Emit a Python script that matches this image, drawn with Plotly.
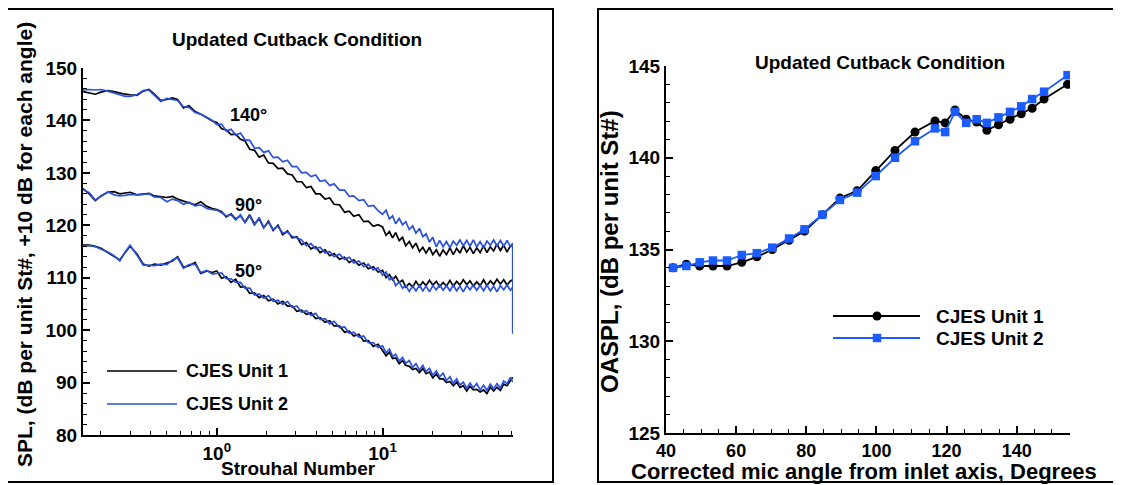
import math
import plotly.graph_objects as go

# ---------------- data: left panel (narrowband spectra) ----------------
ST = [0.156, 0.17, 0.185, 0.2, 0.22, 0.24, 0.26, 0.28, 0.30, 0.33, 0.36, 0.39, 0.42, 0.46,
      0.50, 0.54, 0.58, 0.63, 0.68, 0.74, 0.80, 0.87, 0.94,
      1.0, 1.07, 1.14, 1.22, 1.30, 1.39, 1.48, 1.58, 1.69, 1.80, 1.92, 2.05, 2.19, 2.34, 2.5,
      2.67, 2.85, 3.04, 3.25, 3.47, 3.7, 3.95, 4.2, 4.5, 4.8, 5.1, 5.5, 5.9, 6.3, 6.7, 7.2,
      7.7, 8.2, 8.8, 9.4,
      10.0, 10.5, 11.0, 11.5, 12.0, 12.6, 13.2, 13.8, 14.5, 15.2, 15.9, 16.7, 17.5, 18.3,
      19.2, 20.1, 21.1, 22.1, 23.2, 24.3, 25.5, 26.7, 28.0, 29.3, 30.7, 32.2, 33.7, 35.3,
      37.0, 38.8, 40.7, 42.6, 44.7, 46.8, 49.0, 51.4, 53.8, 56.4, 59.1, 61.0]

U1_140 = [145.5, 145.3, 145.0, 145.4, 145.7, 145.5, 145.2, 145.0, 144.9, 144.8, 145.6, 145.9,
          145.0, 143.8, 144.0, 144.3, 144.0, 142.4, 142.8, 141.7, 141.2, 140.5, 139.9,
          139.6, 138.4, 138.2, 137.3, 137.4, 136.4, 136.1, 134.5, 134.3, 133.0, 133.4, 131.9,
          131.8, 130.8, 130.9, 129.8, 129.6, 128.3, 128.3, 127.2, 127.4, 126.0, 126.0, 125.0,
          125.2, 124.0, 123.9, 122.5, 122.7, 121.7, 122.0, 120.7, 120.8, 119.8, 120.1,
          119.7, 118.1, 118.8, 117.6, 118.6, 117.1, 117.7, 116.1, 116.9, 115.7, 116.6, 115.0,
          115.8, 114.7, 115.8, 114.4, 115.3, 114.1, 115.3, 114.4, 115.7, 114.4, 115.6, 114.7,
          116.1, 114.9, 115.8, 114.6, 115.7, 114.8, 116.1, 114.8, 115.9, 115.1, 116.4, 115.2,
          116.2, 114.9, 116.1, 116.0]
U2_140 = [145.8, 145.9, 145.8, 145.9, 145.6, 145.3, 144.9, 144.6, 144.6, 144.9, 145.7, 145.8,
          144.8, 143.6, 144.2, 144.0, 143.8, 142.6, 142.5, 141.5, 141.2, 140.6, 140.0,
          139.2, 139.3, 138.0, 138.3, 137.2, 137.6, 136.3, 136.2, 134.7, 134.8, 133.9, 134.2,
          132.9, 133.0, 132.1, 132.4, 131.2, 131.2, 130.0, 130.1, 129.3, 129.6, 128.4, 128.6,
          127.6, 127.9, 126.7, 126.7, 125.5, 125.6, 124.7, 124.9, 123.6, 123.8, 122.8,
          122.1, 122.9, 121.2, 121.8, 120.3, 121.3, 120.1, 120.7, 119.2, 119.9, 118.5, 119.4,
          117.8, 118.4, 116.8, 117.7, 115.9, 117.1, 115.9, 116.9, 115.7, 117.0, 116.2, 117.2,
          116.1, 117.1, 116.0, 117.2, 115.9, 116.9, 115.7, 117.0, 116.2, 117.2, 116.1, 117.1,
          116.0, 117.1, 115.9, 116.6]
U2_140_END_ST = [61.0]
U2_140_END_SPL = [99.3]

U1_90 = [127.0, 126.0, 124.7, 125.6, 126.3, 126.4, 126.0, 126.1, 126.3, 125.8, 126.0, 126.1,
         125.6, 125.4, 125.3, 125.5, 125.0, 124.6, 124.2, 123.9, 124.5, 123.6, 123.2,
         123.0, 122.6, 121.6, 122.2, 121.2, 121.8, 120.6, 122.0, 120.2, 121.3, 119.5, 120.8,
         119.0, 120.0, 118.2, 118.9, 117.6, 117.8, 116.3, 116.7, 115.5, 115.9, 114.8, 115.3,
         114.2, 114.6, 113.5, 113.9, 112.9, 113.4, 112.4, 112.8, 111.7, 112.1, 111.1,
         111.4, 110.0, 110.6, 109.6, 110.3, 109.1, 109.5, 108.2, 108.9, 108.2, 109.3, 108.3,
         109.2, 108.5, 109.5, 108.6, 109.3, 108.3, 109.1, 108.4, 109.5, 108.4, 109.3, 108.6,
         109.6, 108.7, 109.4, 108.4, 109.2, 108.5, 109.6, 108.5, 109.4, 108.7, 109.7, 108.8,
         109.6, 108.6, 109.4, 109.6]
U2_90 = [126.8, 126.2, 124.8, 125.6, 126.4, 125.8, 125.6, 125.7, 125.9, 125.8, 125.9, 126.0,
         125.4, 125.3, 124.5, 125.0, 124.7, 124.0, 124.4, 123.7, 123.9, 123.2, 123.0,
         122.9, 122.4, 121.8, 122.0, 121.0, 122.0, 120.5, 121.8, 120.0, 121.5, 119.6, 120.6,
         119.2, 119.8, 118.5, 118.7, 117.9, 117.6, 117.2, 116.1, 116.5, 115.5, 115.8, 114.7,
         115.0, 114.0, 114.5, 113.5, 113.9, 112.8, 113.2, 112.1, 112.6, 111.5, 111.9,
         110.5, 111.1, 109.6, 110.0, 108.5, 109.2, 108.0, 108.5, 107.4, 108.4, 107.5, 108.6,
         107.5, 108.4, 107.3, 108.5, 107.7, 108.6, 107.6, 108.5, 107.5, 108.6, 107.5, 108.4,
         107.3, 108.5, 107.7, 108.6, 107.6, 108.5, 107.5, 108.6, 107.5, 108.4, 107.3, 108.5,
         107.7, 108.6, 107.6, 108.2]

U1_50 = [116.2, 116.2, 116.0, 115.6, 114.8, 114.0, 113.4, 114.8, 116.0, 114.5, 112.6, 112.2,
         112.6, 112.4, 112.8, 113.2, 114.0, 112.0, 112.3, 112.9, 110.8, 111.3, 111.0,
         111.3, 109.9, 110.2, 109.1, 109.7, 108.2, 108.3, 107.0, 107.1, 106.2, 106.6, 105.6,
         105.9, 105.0, 105.5, 104.6, 104.6, 103.6, 103.8, 103.0, 103.3, 102.2, 102.4, 101.5,
         101.8, 100.8, 100.8, 99.6, 99.8, 98.9, 99.2, 97.9, 98.0, 96.9, 97.3,
         96.1, 95.1, 95.8, 94.6, 94.7, 93.6, 94.2, 93.3, 93.1, 92.5, 92.7, 91.9,
         92.7, 91.7, 92.0, 90.9, 91.6, 90.7, 90.7, 90.0, 90.2, 89.4, 90.1, 89.1,
         89.4, 88.4, 89.3, 88.6, 88.7, 88.2, 88.6, 87.9, 89.1, 88.4, 89.1, 88.5,
         89.7, 89.4, 90.4, 91.0]
U2_50 = [116.0, 116.1, 115.9, 115.5, 114.9, 114.2, 113.2, 114.9, 116.2, 114.3, 112.4, 112.4,
         112.3, 112.6, 112.5, 113.4, 113.8, 111.8, 112.5, 112.6, 111.0, 111.4, 110.7,
         110.8, 110.9, 109.8, 109.8, 109.1, 109.1, 108.0, 108.0, 106.7, 106.9, 106.1, 106.6,
         105.5, 105.7, 104.9, 105.5, 104.3, 104.6, 103.4, 103.7, 102.8, 103.2, 102.0, 102.2,
         101.2, 101.7, 100.5, 100.6, 99.4, 99.6, 98.7, 98.9, 97.6, 97.6, 96.7,
         97.0, 95.6, 96.4, 95.0, 95.4, 94.1, 94.8, 93.7, 94.2, 92.9, 93.6, 92.4,
         93.3, 92.1, 92.7, 91.4, 92.2, 91.1, 91.8, 90.4, 91.1, 89.9, 90.7, 89.5,
         90.1, 88.9, 89.9, 89.0, 89.8, 88.6, 89.5, 88.5, 89.7, 88.8, 89.8, 89.0,
         90.3, 89.8, 91.0, 90.1]

ANGLE_LABELS = ["140°", "90°", "50°"]
LABEL_ST = [1.55, 1.56, 1.55]
LABEL_SPL = [141.0, 123.8, 111.2]

# ---------------- data: right panel (OASPL directivity) ----------------
ANG = [42.0, 45.8, 49.6, 53.4, 57.4, 61.6, 65.9, 70.3, 75.1, 79.5, 84.6, 89.6, 94.5, 99.8,
       105.3, 111.0, 116.7, 119.6, 122.4, 125.6, 128.6, 131.5, 134.8, 138.1, 141.3, 144.4,
       147.8, 154.5]
OASPL_U1 = [134.0, 134.2, 134.1, 134.1, 134.1, 134.3, 134.6, 135.0, 135.5, 136.0, 136.9, 137.8,
            138.2, 139.3, 140.4, 141.4, 142.0, 141.9, 142.6, 142.1, 141.95, 141.5, 141.8, 142.1,
            142.4, 142.7, 143.2, 144.0]
OASPL_U2 = [134.0, 134.1, 134.3, 134.4, 134.4, 134.7, 134.8, 135.1, 135.6, 136.1, 136.9, 137.7,
            138.1, 139.0, 140.0, 140.9, 141.6, 141.4, 142.5, 141.9, 142.1, 141.9, 142.2, 142.5,
            142.8, 143.2, 143.6, 144.5]

SERIES = ["CJES Unit 1", "CJES Unit 2"]

# ---------------- style ----------------
W, H = 1121, 485
OFF = 8  # page body margin of the viewer
BLACK = "#000000"
BLUE_L = "#2b52dd"
BLUE_R = "#1a5cff"
FONT = "Liberation Sans"


def px(x):
    return (x - OFF) / W


def py(y):
    return 1 - (y - OFF) / H


fig = go.Figure()

# left panel traces (black first, blue on top)
for vals in (U1_140, U1_90, U1_50):
    fig.add_trace(go.Scatter(x=ST, y=vals, mode="lines", line=dict(color=BLACK, width=1.7),
                             xaxis="x", yaxis="y", showlegend=False, name=SERIES[0]))
for st, vals in ((ST + U2_140_END_ST, U2_140 + U2_140_END_SPL), (ST, U2_90), (ST, U2_50)):
    fig.add_trace(go.Scatter(x=st, y=vals, mode="lines", line=dict(color=BLUE_L, width=1.7),
                             xaxis="x", yaxis="y", showlegend=False, name=SERIES[1]))

# right panel traces
fig.add_trace(go.Scatter(x=ANG, y=OASPL_U1, mode="lines+markers", name=SERIES[0],
                         line=dict(color=BLACK, width=1.8),
                         marker=dict(symbol="circle", size=9, color=BLACK),
                         xaxis="x2", yaxis="y2", showlegend=False))
fig.add_trace(go.Scatter(x=ANG, y=OASPL_U2, mode="lines+markers", name=SERIES[1],
                         line=dict(color=BLUE_R, width=1.8),
                         marker=dict(symbol="square", size=8.5, color=BLUE_R),
                         xaxis="x2", yaxis="y2", showlegend=False))

axis_common = dict(showgrid=False, zeroline=False, showline=True, linecolor=BLACK, linewidth=2,
                   ticks="inside", tickcolor=BLACK, tickwidth=1.5, ticklen=7, mirror=False,
                   automargin=False)
yfont = dict(family=FONT, size=19, color=BLACK, weight="bold")
xfont = dict(family=FONT, size=18, color=BLACK, weight="bold")

fig.update_layout(
    template="none",
    width=W, height=H,
    autosize=False,
    margin=dict(l=0, r=0, t=0, b=0, pad=0),
    paper_bgcolor="white", plot_bgcolor="white",
    font=dict(family=FONT, color=BLACK, weight="bold"),
    xaxis=dict(domain=[px(83), px(513)], type="log", range=[-0.807, 1.787],
               tickmode="array", tickvals=[1, 10], ticktext=["10<sup>0</sup>", "10<sup>1</sup>"],
               minor=dict(tickmode="array",
                          tickvals=[0.2, 0.3, 0.4, 0.5, 0.6, 0.7, 0.8, 0.9, 2, 3, 4, 5, 6, 7, 8, 9,
                                    20, 30, 40, 50, 60],
                          ticks="inside", ticklen=4, tickcolor=BLACK, tickwidth=1),
               anchor="y", tickfont=dict(family=FONT, size=19, color=BLACK, weight="bold"),
               **axis_common),
    yaxis=dict(domain=[py(435), py(68)], range=[80, 150], tickmode="linear", tick0=80, dtick=10,
               minor=dict(dtick=2, ticks="inside", ticklen=4, tickcolor=BLACK, tickwidth=1),
               anchor="x", tickfont=yfont, **axis_common),
    xaxis2=dict(domain=[px(666), px(1070)], range=[40, 155.2], tickmode="array",
                tickvals=[40, 60, 80, 100, 120, 140],
                minor=dict(dtick=5, tick0=40, ticks="inside", ticklen=4, tickcolor=BLACK, tickwidth=1),
                anchor="y2", tickfont=xfont, **axis_common),
    yaxis2=dict(domain=[py(433), py(66)], range=[125, 145], tickmode="linear", tick0=125, dtick=5,
                minor=dict(dtick=1, ticks="inside", ticklen=4, tickcolor=BLACK, tickwidth=1),
                anchor="x2", tickfont=yfont, **axis_common),
)

shapes = []
# panel frames
shapes.append(dict(type="rect", xref="paper", yref="paper", x0=px(6), x1=px(553), y0=py(482),
                   y1=py(9), line=dict(color=BLACK, width=2)))
shapes.append(dict(type="rect", xref="paper", yref="paper", x0=px(598), x1=px(1118), y0=py(482),
                   y1=py(9), line=dict(color=BLACK, width=2)))
# left legend lines
shapes.append(dict(type="line", xref="paper", yref="paper", x0=px(107), x1=px(177), y0=py(371),
                   y1=py(371), line=dict(color=BLACK, width=1.5)))
shapes.append(dict(type="line", xref="paper", yref="paper", x0=px(107), x1=px(177), y0=py(404),
                   y1=py(404), line=dict(color=BLUE_L, width=1.5)))
# right legend lines + symbols
shapes.append(dict(type="line", xref="paper", yref="paper", x0=px(833), x1=px(920), y0=py(316),
                   y1=py(316), line=dict(color=BLACK, width=1.8)))
shapes.append(dict(type="circle", xref="paper", yref="paper", x0=px(872.5), x1=px(881.5),
                   y0=py(320.5), y1=py(311.5), fillcolor=BLACK, line=dict(color=BLACK, width=0)))
shapes.append(dict(type="line", xref="paper", yref="paper", x0=px(833), x1=px(920), y0=py(338),
                   y1=py(338), line=dict(color=BLUE_R, width=1.8)))
shapes.append(dict(type="rect", xref="paper", yref="paper", x0=px(872.8), x1=px(881.2),
                   y0=py(342.2), y1=py(333.8), fillcolor=BLUE_R, line=dict(color=BLUE_R, width=0)))
fig.update_layout(shapes=shapes)


def ann(text, x, y, size, xanchor="center", **kw):
    d = dict(text=text, x=x, y=y, xref="paper", yref="paper", showarrow=False,
             xanchor=xanchor, yanchor="middle",
             font=dict(family=FONT, size=size, color=BLACK, weight="bold"))
    d.update(kw)
    return d


annotations = [
    ann("Updated Cutback Condition", px(297), py(40), 19),
    ann("Updated Cutback Condition", px(880), py(62), 19),
    ann("Strouhal Number", px(298), py(468), 19),
    ann("Corrected mic angle from inlet axis, Degrees", px(864), py(471), 22),
    ann("SPL, (dB per unit St#, +10 dB for each angle)", px(24), py(245), 21, textangle=-90),
    ann("OASPL, (dB per unit St#)", px(609), py(252), 24, textangle=-90),
    ann(SERIES[0], px(184), py(371), 18, xanchor="left"),
    ann(SERIES[1], px(184), py(404), 18, xanchor="left"),
    ann(SERIES[0], px(934), py(316), 19, xanchor="left"),
    ann(SERIES[1], px(934), py(338), 19, xanchor="left"),
]
for lab, st, spl in zip(ANGLE_LABELS, LABEL_ST, LABEL_SPL):
    annotations.append(dict(text=lab, x=math.log10(st), y=spl, xref="x", yref="y", showarrow=False,
                            xanchor="center", yanchor="middle",
                            font=dict(family=FONT, size=18, color=BLACK, weight="bold")))
fig.update_layout(annotations=annotations)

fig.write_html("out.html")
